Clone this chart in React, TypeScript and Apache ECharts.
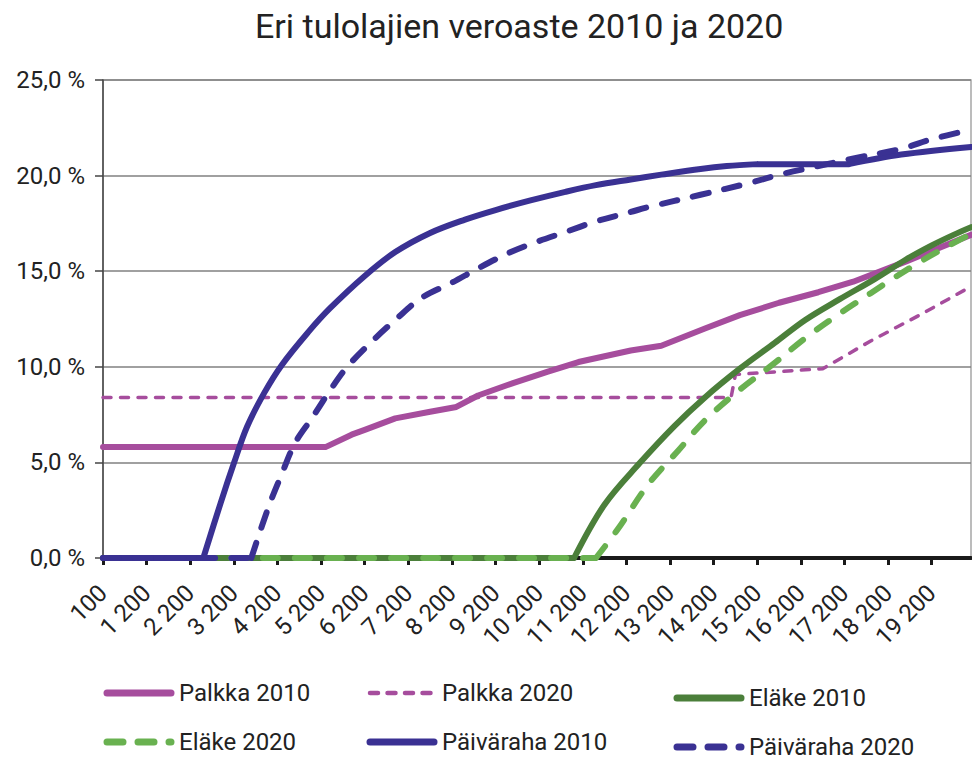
import React, { useEffect, useRef } from "react";
import * as echarts from "echarts";

// Income categories (euros / month): 100, then 300 … 20 100 in steps of 100
const categoryStart = 300;
const categoryEnd = 20100;
const categoryStep = 100;
const incomeCategories: string[] = ["100"];
for (let v = categoryStart; v <= categoryEnd; v += categoryStep) incomeCategories.push(String(v));

// y-axis ticks (%)
const yTicks = [0, 5, 10, 15, 20, 25];

// Series: [income, tax rate %]
const palkka2010: [number, number][] = [
  [100, 5.8], [5300, 5.8], [5900, 6.45], [6200, 6.7], [6900, 7.3], [7700, 7.65], [8300, 7.9],
  [8800, 8.5], [9600, 9.15], [10400, 9.75], [11100, 10.25], [12300, 10.85], [13000, 11.1],
  [14000, 12.0], [14800, 12.7], [15700, 13.35], [16600, 13.9], [17400, 14.45], [18600, 15.5],
  [20100, 16.9],
];
const palkka2020: [number, number][] = [
  [100, 8.4], [14600, 8.4], [14700, 9.6], [15700, 9.75], [16700, 9.9], [17800, 11.35],
  [19000, 12.8], [20100, 14.2],
];
const elake2010: [number, number][] = [
  [100, 0], [11000, 0], [11700, 2.8], [12500, 4.95], [13300, 6.9], [14000, 8.4], [14800, 9.9],
  [15600, 11.25], [16300, 12.45], [17100, 13.55], [17900, 14.6], [18600, 15.6], [19200, 16.35],
  [19700, 16.9], [20100, 17.3],
];
const elake2020: [number, number][] = [
  [100, 0], [11500, 0], [12000, 1.5], [12700, 3.85], [13400, 5.65], [14000, 7.2], [14800, 8.8],
  [15600, 10.2], [16300, 11.5], [17100, 12.8], [17800, 13.85], [18300, 14.6], [18900, 15.45],
  [19600, 16.35], [20100, 16.95],
];
const paivaraha2010: [number, number][] = [
  [100, 0], [2500, 0], [2900, 2.9], [3200, 4.95], [3500, 6.85], [3900, 8.65], [4300, 10.1],
  [4900, 11.8], [5400, 13.05], [6200, 14.75], [6900, 16.0], [7700, 17.0], [8500, 17.7],
  [9200, 18.2], [10000, 18.7], [10800, 19.15], [11500, 19.5], [12300, 19.8], [13000, 20.05],
  [13900, 20.35], [14500, 20.5], [15200, 20.6], [17300, 20.6], [18500, 21.1], [20100, 21.5],
];
const paivaraha2020: [number, number][] = [
  [100, 0], [3600, 0], [4000, 2.7], [4300, 4.4], [4600, 6.0], [5000, 7.35], [5400, 8.75],
  [5800, 10.0], [6400, 11.4], [6900, 12.45], [7500, 13.6], [8200, 14.4], [8800, 15.15],
  [9500, 15.95], [10100, 16.5], [10800, 17.05], [11500, 17.6], [12300, 18.1], [12700, 18.35],
  [13900, 19.0], [15000, 19.6], [15800, 20.1], [16600, 20.5], [17300, 20.85], [18500, 21.4],
  [19200, 21.9], [20100, 22.4],
];

// incomes where a curve has a sharp corner (smoothing is restarted there)
const corners: Record<string, number[]> = {
  "Eläke 2010": [11000],
  "Eläke 2020": [11500],
  "Päiväraha 2010": [2500, 15200, 17300],
  "Päiväraha 2020": [3600],
};

const FONT = "Roboto, 'Open Sans', sans-serif";
const MAGENTA = "#a64d9d";
const DARK_GREEN = "#4b7f3a";
const LIGHT_GREEN = "#69b150";
const BLUE = "#3a3193";

const toData = (pairs: [number, number][], cornerList: number[] = []) => {
  const out: any[] = [];
  pairs.forEach(([inc, v], i) => {
    const idx = incomeCategories.indexOf(String(inc));
    out.push([idx, v]);
    if (cornerList.includes(inc) && i > 0 && i < pairs.length - 1) {
      out.push([idx, "-"]);
      out.push([idx, v]);
    }
  });
  return out;
};

const fmtThousands = (s: string) => s.replace(/\B(?=(\d{3})+(?!\d))/g, " ");

export default function App() {
  const ref = useRef<HTMLDivElement>(null);
  useEffect(() => {
    if (!ref.current) return;
    const chart = echarts.init(ref.current, undefined, { renderer: "svg" });

    const seriesDefs = [
      { name: "Palkka 2010", data: palkka2010, color: MAGENTA, width: 6, dash: null as any, legendDash: null as any, smooth: false },
      { name: "Palkka 2020", data: palkka2020, color: MAGENTA, width: 3.5, dash: [8, 9.5], legendDash: [8, 9.5], smooth: false },
      { name: "Eläke 2010", data: elake2010, color: DARK_GREEN, width: 6, dash: null, legendDash: null, smooth: 0.35 },
      { name: "Eläke 2020", data: elake2020, color: LIGHT_GREEN, width: 6, dash: [15, 17], legendDash: [16, 15], smooth: 0.35 },
      { name: "Päiväraha 2010", data: paivaraha2010, color: BLUE, width: 6, dash: null, legendDash: null, smooth: 0.35 },
      { name: "Päiväraha 2020", data: paivaraha2020, color: BLUE, width: 6, dash: [16, 16], legendDash: [16, 15], smooth: 0.35 },
    ];

    // legend layout: [series name, line x start, line x end, y]
    const legendSlots: [string, number, number, number][] = [
      ["Palkka 2010", 107, 171, 693],
      ["Eläke 2020", 107, 171, 742],
      ["Palkka 2020", 370, 434, 693],
      ["Päiväraha 2010", 370, 434, 742],
      ["Eläke 2010", 677, 741, 698],
      ["Päiväraha 2020", 677, 741, 747],
    ];
    const legendGraphics: any[] = [];
    legendSlots.forEach(([name, x1, x2, y]) => {
      const s = seriesDefs.find((d) => d.name === name)!;
      legendGraphics.push({
        type: "line",
        shape: { x1, y1: y, x2, y2: y },
        style: {
          stroke: s.color,
          lineWidth: s.width + 1,
          lineDash: s.legendDash || undefined,
          lineCap: "round",
        },
      });
      legendGraphics.push({
        type: "text",
        x: x2 + 8,
        y,
        style: {
          text: name,
          fontSize: 24,
          fontFamily: FONT,
          fill: "#222",
          verticalAlign: "middle",
          align: "left",
        },
      });
    });

    chart.setOption({
      animation: false,
      title: {
        text: "Eri tulolajien veroaste 2010 ja 2020",
        left: 250,
        top: 4,
        textStyle: { fontSize: 34, fontWeight: "normal", color: "#222", fontFamily: FONT },
      },
      grid: {
        left: 103,
        right: 1,
        top: 80,
        bottom: 202,
        show: true,
        borderColor: "#a6a6a6",
        borderWidth: 1.5,
      },
      graphic: legendGraphics,
      xAxis: {
        type: "category",
        data: incomeCategories,
        boundaryGap: false,
        axisLine: { show: true, lineStyle: { color: "#1a1a1a", width: 4 } },
        axisTick: {
          show: true,
          interval: (i: number) => i % 10 === 0,
          length: 7,
          lineStyle: { color: "#1a1a1a", width: 3 },
        },
        axisLabel: {
          interval: (i: number) => i % 10 === 0,
          rotate: 45,
          margin: 31,
          fontSize: 24,
          color: "#222",
          fontFamily: FONT,
          formatter: (v: string) => fmtThousands(v),
        },
        splitLine: { show: false },
      },
      yAxis: {
        type: "value",
        min: yTicks[0],
        max: yTicks[yTicks.length - 1],
        interval: yTicks[1] - yTicks[0],
        axisLine: { show: true, lineStyle: { color: "#444", width: 1.5 } },
        axisTick: { show: true, length: 8, lineStyle: { color: "#444", width: 1.5 } },
        axisLabel: {
          margin: 18,
          fontSize: 24,
          color: "#222",
          fontFamily: FONT,
          formatter: (v: number) => v.toFixed(1).replace(".", ",") + " %",
        },
        splitLine: { show: true, lineStyle: { color: "#808080", width: 1.5 } },
      },
      series: seriesDefs.map((s) => ({
        name: s.name,
        type: "line",
        data: toData(s.data, corners[s.name] || []),
        connectNulls: false,
        symbol: "none",
        showSymbol: false,
        smooth: s.smooth,
        color: s.color,
        lineStyle: {
          color: s.color,
          width: s.width,
          type: s.dash || "solid",
          cap: "round",
          join: "round",
        },
      })),
    });
    return () => chart.dispose();
  }, []);
  return (
    <div
      ref={ref}
      style={{ position: "absolute", left: 0, top: 0, width: 972, height: 760 }}
    />
  );
}
